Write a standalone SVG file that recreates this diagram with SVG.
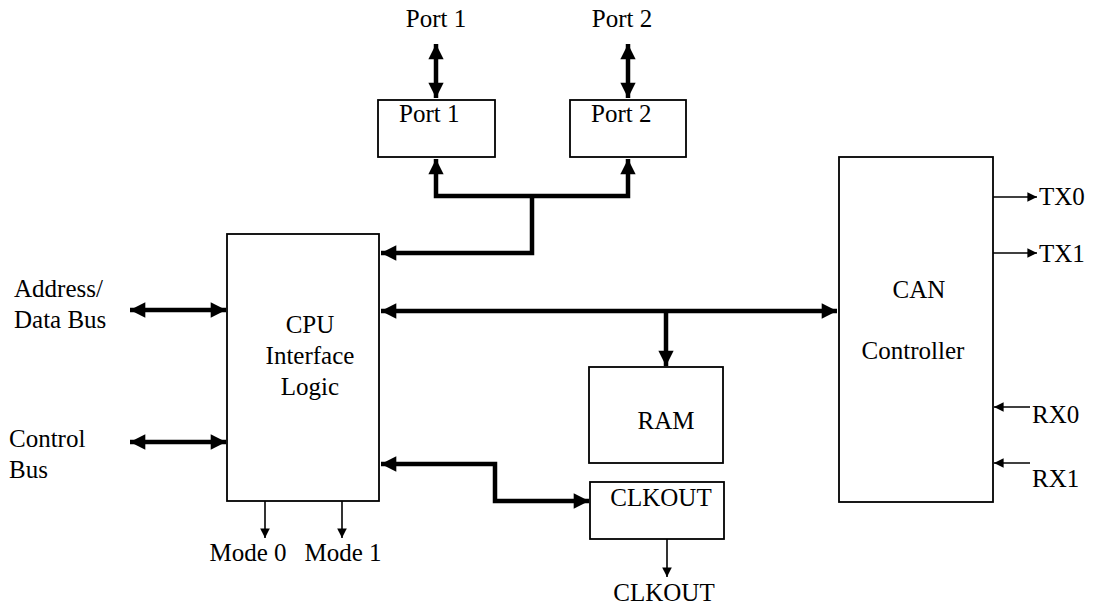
<svg xmlns="http://www.w3.org/2000/svg" width="1095" height="607" viewBox="0 0 1095 607">
<style>
.box{fill:#fff;stroke:#000;stroke-width:1.8}
.bus{fill:none;stroke:#000;stroke-width:4.5;stroke-linejoin:miter}
.thin{fill:none;stroke:#000;stroke-width:1.6}
.t{font-family:'Liberation Serif','Times New Roman','DejaVu Serif',serif;font-size:25px;fill:#000}
</style>
<defs>
<marker id="bh" viewBox="0 0 10 10" refX="10" refY="5" markerWidth="3.6" markerHeight="3.4" orient="auto-start-reverse" markerUnits="strokeWidth">
<path d="M0,0 L10,5 L0,10 Z" fill="#000"/>
</marker>
<marker id="th" viewBox="0 0 10 10" refX="10" refY="5" markerWidth="7.5" markerHeight="6" orient="auto-start-reverse" markerUnits="strokeWidth">
<path d="M0,0 L10,5 L0,10 Z" fill="#000"/>
</marker>
</defs>

<g id="port1">
<rect class="box" x="378" y="100" width="117" height="57"/>
<text class="t" x="399" y="122" font-family="Liberation Serif, serif">Port 1</text>
</g>
<g id="port2">
<rect class="box" x="570" y="100" width="116" height="57"/>
<text class="t" x="591" y="122" font-family="Liberation Serif, serif">Port 2</text>
</g>
<g id="cpu" font-family="Liberation Serif, serif">
<rect class="box" x="227" y="234" width="152" height="267"/>
<text class="t" x="310" y="333" text-anchor="middle">CPU</text>
<text class="t" x="310" y="364" text-anchor="middle">Interface</text>
<text class="t" x="310" y="395" text-anchor="middle">Logic</text>
</g>
<g id="ram">
<rect class="box" x="589" y="367" width="134" height="96"/>
<text class="t" x="666" y="429" text-anchor="middle">RAM</text>
</g>
<g id="clkout">
<rect class="box" x="590" y="482" width="134" height="57"/>
<text class="t" x="661" y="506" text-anchor="middle">CLKOUT</text>
</g>
<g id="can">
<rect class="box" x="839" y="157" width="154" height="345"/>
<text class="t" x="919" y="298" text-anchor="middle">CAN</text>
<text class="t" x="913" y="359" text-anchor="middle">Controller</text>
</g>
<g id="labels">
<text class="t" x="436" y="27" text-anchor="middle">Port 1</text>
<text class="t" x="622" y="27" text-anchor="middle">Port 2</text>
<text class="t" x="14" y="297">Address/</text>
<text class="t" x="14" y="328">Data Bus</text>
<text class="t" x="9" y="447">Control</text>
<text class="t" x="9" y="478">Bus</text>
<text class="t" x="248" y="561" text-anchor="middle">Mode 0</text>
<text class="t" x="343" y="561" text-anchor="middle">Mode 1</text>
<text class="t" x="664" y="601" text-anchor="middle">CLKOUT</text>
<text class="t" x="1039" y="205">TX0</text>
<text class="t" x="1039" y="262">TX1</text>
<text class="t" x="1032" y="423">RX0</text>
<text class="t" x="1032" y="487">RX1</text>
</g>

<g id="connectors">
<line class="bus" x1="436" y1="44" x2="436" y2="98" marker-start="url(#bh)" marker-end="url(#bh)"/>
<line class="bus" x1="628" y1="44" x2="628" y2="98" marker-start="url(#bh)" marker-end="url(#bh)"/>
<polyline class="bus" points="628,159 628,196 436,196 436,159" marker-start="url(#bh)" marker-end="url(#bh)"/>
<polyline class="bus" points="532,196 532,253 381,253" marker-end="url(#bh)"/>
<line class="bus" x1="381" y1="311" x2="837" y2="311" marker-start="url(#bh)" marker-end="url(#bh)"/>
<line class="bus" x1="666" y1="311" x2="666" y2="366" marker-end="url(#bh)"/>
<polyline class="bus" points="381,464 495,464 495,501 589,501" marker-start="url(#bh)" marker-end="url(#bh)"/>
<line class="bus" x1="130" y1="310" x2="226" y2="310" marker-start="url(#bh)" marker-end="url(#bh)"/>
<line class="bus" x1="130" y1="442" x2="226" y2="442" marker-start="url(#bh)" marker-end="url(#bh)"/>
<line class="thin" x1="265" y1="501" x2="265" y2="538" marker-end="url(#th)"/>
<line class="thin" x1="342" y1="501" x2="342" y2="538" marker-end="url(#th)"/>
<line class="thin" x1="667" y1="539" x2="667" y2="577" marker-end="url(#th)"/>
<line class="thin" x1="993" y1="197" x2="1037" y2="197" marker-end="url(#th)"/>
<line class="thin" x1="993" y1="253" x2="1037" y2="253" marker-end="url(#th)"/>
<line class="thin" x1="1030" y1="407" x2="994" y2="407" marker-end="url(#th)"/>
<line class="thin" x1="1030" y1="463" x2="994" y2="463" marker-end="url(#th)"/>
</g>
</svg>
